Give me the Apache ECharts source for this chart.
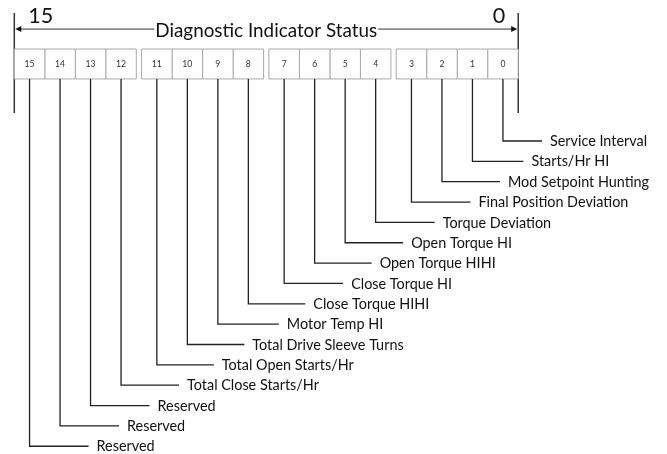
<!DOCTYPE html>
<html><head><meta charset="utf-8">
<script src="https://cdn.jsdelivr.net/npm/echarts@6/dist/echarts.min.js"></script>
<style>html,body{margin:0;padding:0;background:#fff}#c{width:667px;height:454px}</style>
</head><body><div id="c"></div>
<script>
// ---- data ----
const title = 'Diagnostic Indicator Status';
const rangeLabels = ['15', '0'];
const bits = [0, 1, 2, 3, 4, 5, 6, 7, 8, 9, 10, 11, 12, 13, 14, 15];
const boxLabels = ['0', '1', '2', '3', '4', '5', '6', '7', '8', '9', '10', '11', '12', '13', '14', '15'];
const statusLabels = [
  'Service Interval', 'Starts/Hr HI', 'Mod Setpoint Hunting', 'Final Position Deviation',
  'Torque Deviation', 'Open Torque HI', 'Open Torque HIHI', 'Close Torque HI',
  'Close Torque HIHI', 'Motor Temp HI', 'Total Drive Sleeve Turns', 'Total Open Starts/Hr',
  'Total Close Starts/Hr', 'Reserved', 'Reserved', 'Reserved'
];

// ---- layout / style ----
const GAP = 5.3 / 30.5;           // gap between nibble groups, in cell units
const TOTAL_U = 16 + 3 * GAP;
const ROW_FRAME_TOP = -6.29, ROW_FRAME_BOT = -1.376, ROW_ARROW = -5.50;
const ROW_BOX_TOP = -4.52, ROW_BOX_BOT = -3.05, ROW_TITLE = -5.40, ROW_RANGE = -5.58;
const LEAD_PX = [47, 59, 66, 67, 67, 66, 65, 67, 65, 69, 65, 65, 66, 67, 67, 67];
const FAMILY = 'Lato';

function fit(text, target, base) {
  const cv = document.createElement('canvas').getContext('2d');
  cv.font = base + 'px ' + FAMILY;
  return base * target / cv.measureText(text).width;
}
const labelSize = fit('Final Position Deviation', 150, 16);
const titleSize = fit(title, 222, 20);
const rangeSize = fit('15', 25, 24);
const boxSize = fit('15', 10, 10);

function txt(x, y, text, size, fill, align, valign, extra) {
  return {
    type: 'text',
    style: Object.assign({
      x: x, y: y, text: text, font: size.toFixed(2) + 'px ' + FAMILY, fill: fill,
      textFill: fill, align: align, textAlign: align, verticalAlign: valign, textVerticalAlign: valign
    }, extra || {})
  };
}

function renderBit(params, api) {
  const b = api.value(0), r = api.value(1);
  const col = 15 - b, grp = Math.floor(col / 4);
  const uL = col + grp * GAP, uC = uL + 0.5;
  const p1 = api.coord([uL, ROW_BOX_TOP]), p2 = api.coord([uL + 1, ROW_BOX_BOT]);
  const c = api.coord([uC, r]);
  const lead = LEAD_PX[b];
  return {
    type: 'group', children: [
      { type: 'rect', shape: { x: p1[0], y: p1[1], width: p2[0] - p1[0], height: p2[1] - p1[1] },
        style: { fill: '#fff', stroke: '#a9a9a9', lineWidth: 1 } },
      txt(c[0], (p1[1] + p2[1]) / 2 + 0.5, boxLabels[b], boxSize, '#333', 'center', 'middle'),
      { type: 'polyline', shape: { points: [[c[0], p2[1]], [c[0], c[1]], [c[0] + lead - 8, c[1]]] },
        style: { stroke: '#222', lineWidth: 1.3, fill: null } },
      txt(c[0] + lead, c[1] + 0.5, statusLabels[b], labelSize, '#111', 'left', 'middle')
    ]
  };
}

function renderHeader(params, api) {
  const lt = api.coord([0, ROW_FRAME_TOP]), lb = api.coord([0, ROW_FRAME_BOT]);
  const rt = api.coord([TOTAL_U, ROW_FRAME_TOP]), rb = api.coord([TOTAL_U, ROW_FRAME_BOT]);
  const ay = api.coord([0, ROW_ARROW])[1];
  const mid = api.coord([TOTAL_U / 2, ROW_TITLE]);
  const ry = api.coord([0, ROW_RANGE])[1];
  const L = lt[0], R = rt[0];
  return {
    type: 'group', children: [
      { type: 'line', shape: { x1: L + 5, y1: ay, x2: R - 5, y2: ay }, style: { stroke: '#333', lineWidth: 1 } },
      { type: 'polygon', shape: { points: [[L + 1, ay], [L + 7, ay - 3], [L + 7, ay + 3]] }, style: { fill: '#111' } },
      { type: 'polygon', shape: { points: [[R - 1, ay], [R - 7, ay - 3], [R - 7, ay + 3]] }, style: { fill: '#111' } },
      { type: 'line', shape: { x1: L, y1: lt[1], x2: L, y2: lb[1] }, style: { stroke: '#333', lineWidth: 1.5 } },
      { type: 'line', shape: { x1: R, y1: rt[1], x2: R, y2: rb[1] }, style: { stroke: '#333', lineWidth: 1.5 } },
      txt(mid[0], mid[1], title, titleSize, '#111', 'center', 'middle',
        { backgroundColor: '#fff', textBackgroundColor: '#fff', padding: [0, 1], textPadding: [0, 1] }),
      txt(L + 14, ry, rangeLabels[0], rangeSize, '#111', 'left', 'bottom'),
      txt(R - 13, ry, rangeLabels[1], rangeSize, '#111', 'right', 'bottom')
    ]
  };
}

const chart = echarts.init(document.getElementById('c'), null, { renderer: 'canvas' });
chart.setOption({
  animation: false,
  backgroundColor: '#fff',
  grid: { left: 0, right: 0, top: 0, bottom: 0 },
  xAxis: { type: 'value', min: -14.3 / 30.5, max: (667 - 14.3) / 30.5, show: false },
  yAxis: { type: 'value', inverse: true, min: -141 / 20.35, max: (454 - 141) / 20.35, show: false },
  series: [
    { type: 'custom', renderItem: renderHeader, data: [[0, 0]], clip: false, silent: true },
    { type: 'custom', renderItem: renderBit, data: bits.map((b, i) => [b, i]), clip: false, silent: true }
  ]
});
</script>
</body></html>
